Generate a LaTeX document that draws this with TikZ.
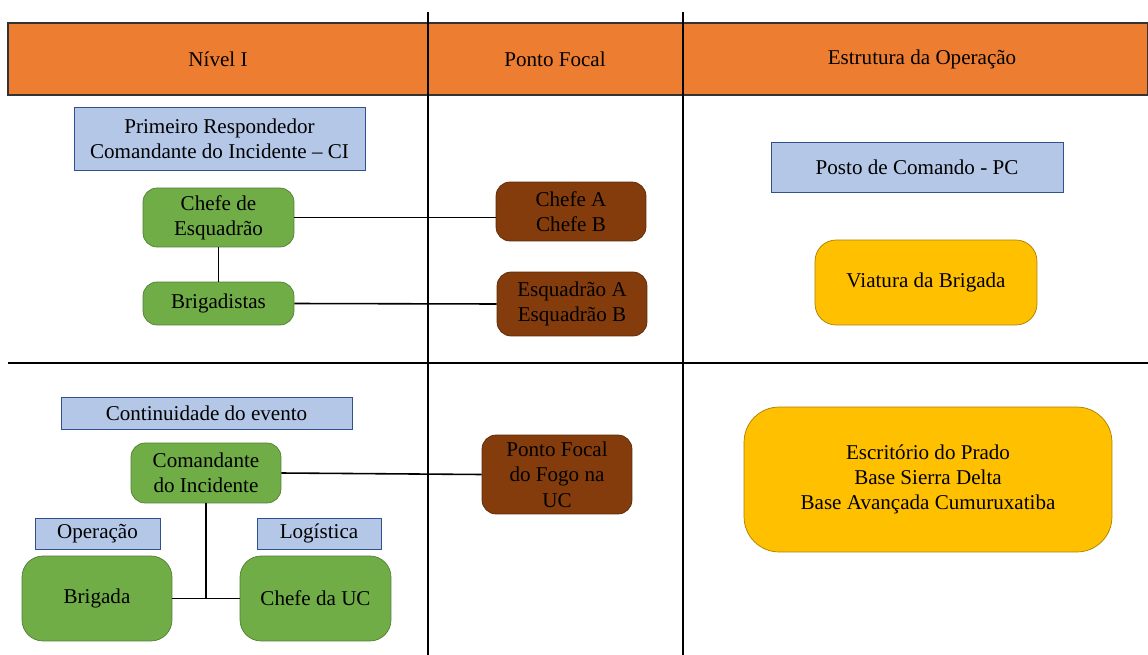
\documentclass[tikz,border=0pt]{standalone}
\usepackage{fontspec}
\setmainfont{Liberation Serif}
\usepackage{tikz}
\usepackage{xcolor}
\usetikzlibrary{positioning}

\definecolor{hdrorange}{HTML}{ED7D31}
\definecolor{lblblue}{HTML}{B4C7E7}
\definecolor{lblblueline}{HTML}{2F528F}
\definecolor{teamgreen}{HTML}{70AD47}
\definecolor{teamgreenline}{HTML}{507E32}
\definecolor{focalbrown}{HTML}{843C0C}
\definecolor{focalbrownline}{HTML}{5A2A08}
\definecolor{basegold}{HTML}{FFC000}
\definecolor{basegoldline}{HTML}{A88000}

\tikzset{
  labelbox/.style={draw=lblblueline, fill=lblblue, align=center, inner sep=2pt},
  teambox/.style={draw=teamgreenline, fill=teamgreen, rounded corners=8pt, align=center, inner sep=2pt},
  focalbox/.style={draw=focalbrownline, fill=focalbrown, rounded corners=8pt, align=center, inner sep=2pt},
  basebox/.style={draw=basegoldline, fill=basegold, rounded corners=12pt, align=center, inner sep=2pt},
  gridline/.style={line width=1pt, black},
  link/.style={line width=0.9pt, black}
}

\begin{document}
\begin{tikzpicture}[x=0.02cm, y=-0.02cm, font=\fontsize{12}{14.4}\selectfont]
        \useasboundingbox (0,0) rectangle (1148,655);

        % orange header band
        \draw[fill=hdrorange, draw=black!80, line width=0.6pt] (8,23) rectangle (1148,95);

        % column and row split
        \draw[gridline] (428,12) -- (428,655);
        \draw[gridline] (683,12) -- (683,655);
        \draw[gridline] (8,363) -- (1148,363);

        % header texts
        \node (nivel) at (218,59) {Nível I};
        \node (focal) at (555,59) {Ponto Focal};
        \node (estrutura) at (922,59) {Estrutura da Operação};

        % level I, first column
        \node[labelbox, minimum width=5.82cm, minimum height=1.26cm] (resp) at (219.5,138.5)
             {Primeiro Respondedor\\Comandante do Incidente -- CI};
        \node[teambox, minimum width=3.02cm, minimum height=1.18cm] (chefeEsq) at (218.5,217.5)
             {Chefe de\\Esquadrão};
        \node[teambox, minimum width=3.02cm, minimum height=0.86cm] (brigadistas) at (218.5,303.5)
             {Brigadistas};

        % level I, focal points
        \node[focalbox, minimum width=3.0cm, minimum height=1.18cm] (chefeAB) at (571,211.5)
             {Chefe A\\Chefe B};
        \node[focalbox, minimum width=3.0cm, minimum height=1.28cm] (esqAB) at (572,304)
             {Esquadrão A\\Esquadrão B};

        % level I, operation structure
        \node[labelbox, minimum width=5.84cm, minimum height=1.0cm] (posto) at (917,167)
             {Posto de Comando - PC};
        \node[basebox, minimum width=4.44cm, minimum height=1.7cm] (viatura) at (926,282.5)
             {Viatura da Brigada};

        % continuity, first column
        \node[labelbox, minimum width=5.82cm, minimum height=0.64cm] (cont) at (206.5,413)
             {Continuidade do evento};
        \node[teambox, minimum width=3.0cm, minimum height=1.2cm] (cmd) at (206,473)
             {Comandante\\do Incidente};
        \node[labelbox, minimum width=2.5cm, minimum height=0.62cm] (oper) at (97.5,533.5)
             {Operação};
        \node[labelbox, minimum width=2.48cm, minimum height=0.62cm] (logi) at (319,533.5)
             {Logística};
        \node[teambox, rounded corners=12pt, minimum width=3.0cm, minimum height=1.7cm] (brigada) at (97,598.5)
             {Brigada};
        \node[teambox, rounded corners=12pt, minimum width=3.02cm, minimum height=1.7cm] (chefeUC) at (315.5,598.5)
             {Chefe da UC};

        % continuity, focal point and bases
        \node[focalbox, minimum width=3.0cm, minimum height=1.58cm] (pfogo) at (557,474.5)
             {Ponto Focal\\do Fogo na\\UC};
        \node[basebox, rounded corners=20pt, minimum width=7.36cm, minimum height=2.9cm] (escr) at (928,479.5)
             {Escritório do Prado\\Base Sierra Delta\\Base Avançada Cumuruxatiba};

        % connections
        \coordinate (jct) at (cmd.south |- brigada.east);
        \draw[link] (chefeEsq) -- (brigadistas);
        \draw[link] (chefeEsq.east) -- (chefeAB.west |- chefeEsq.east);
        \draw[link] (brigadistas.east) -- (esqAB.west);
        \draw[link] (cmd.east) -- (pfogo.west);
        \draw[link] (cmd.south) -- (jct);
        \draw[link] (brigada.east) -- (chefeUC.west);

\end{tikzpicture}
\end{document}
